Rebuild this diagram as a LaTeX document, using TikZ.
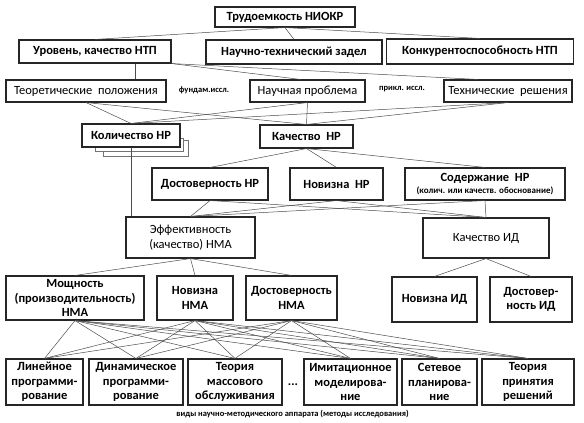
\documentclass[tikz,border=0pt]{standalone}
\usepackage{fontspec}
\setmainfont{Carlito}
\usetikzlibrary{positioning, calc, backgrounds}

\begin{document}
\begin{tikzpicture}[
  x=1pt, y=-1pt,
  every node/.style={font=\fontsize{12.5}{14.5}\selectfont},
  box/.style  = {align=center, draw=black!85, line width=1.1pt, fill=white, inner sep=1pt, font=\fontsize{12.5}{14.5}\selectfont\bfseries},
  plain/.style = {box, font=\fontsize{12.5}{14.5}\selectfont},
  note/.style = {font=\fontsize{8.5}{10}\selectfont\bfseries, inner sep=1pt},
  link/.style = {draw=black!70, line width=0.5pt},
  pile/.style = {draw=black!55, line width=0.6pt, fill=white},
]
  \useasboundingbox (0,0) rectangle (584,423);
  % top of the tree
  \node[box, minimum width=140pt, minimum height=20pt] (trud) at (285,17) {Трудоемкость НИОКР};
  \node[box, minimum width=152pt, minimum height=23pt] (urov) at (95,51.5) {Уровень, качество НТП};
  \node[box, minimum width=176pt, minimum height=24pt] (zadel) at (294,52) {Научно-технический задел};
  \node[box, minimum width=187pt, minimum height=25pt] (konk) at (480,51.5) {Конкурентоспособность НТП};
  % kinds of research
  \node[plain, minimum width=160pt, minimum height=22pt] (teor) at (86,91) {Теоретические\ \ положения};
  \node[plain, minimum width=115pt, minimum height=22pt] (nauch) at (307.5,91) {Научная проблема};
  \node[plain, minimum width=128pt, minimum height=22pt] (tech) at (508,91) {Технические\ \ решения};
  \node[note] (fund) at (204,90) {фундам.иссл.};
  \node[note] (prikl) at (402,89) {прикл. иссл.};
  % results
  \node[box, minimum width=98pt, minimum height=23pt] (kol) at (131,135.5) {Количество НР};
  \begin{scope}[on background layer]
    \draw[pile] (103,140) rectangle (188,156);
    \draw[pile] (95,138) rectangle (183,151);
  \end{scope}
  \node[box, minimum width=93pt, minimum height=23pt] (kach) at (306.5,136.5) {Качество\ \ НР};
  \node[box, minimum width=116pt, minimum height=32pt] (dostnr) at (210,184) {Достоверность НР};
  \node[box, minimum width=93pt, minimum height=32pt] (novnr) at (336.5,184) {Новизна\ \ НР};
  \node[box, minimum width=160pt, minimum height=32pt] (sod) at (485,184)
    {Содержание\ \ НР\\[-2pt]{\fontsize{9}{10}\selectfont (колич. или качеств. обоснование)}};
  \node[plain, minimum width=129pt, minimum height=41pt] (eff) at (190.5,237.5) {Эффективность\\(качество) НМА};
  \node[plain, minimum width=126pt, minimum height=40pt] (kachid) at (486,238) {Качество ИД};
  % properties
  \node[box, minimum width=138pt, minimum height=44pt] (mosh) at (75,298) {Мощность\\(производительность)\\НМА};
  \node[box, minimum width=76pt, minimum height=44pt] (novnma) at (195,298) {Новизна\\НМА};
  \node[box, minimum width=91pt, minimum height=44pt] (dostnma) at (291.5,298) {Достоверность\\НМА};
  \node[box, minimum width=85pt, minimum height=45pt] (novid) at (434.5,299.5) {Новизна ИД};
  \node[box, minimum width=82pt, minimum height=45pt] (dostid) at (531,299.5) {Достовер-\\ность ИД};
  % methods
  \node[box, minimum width=77pt, minimum height=46pt] (lin) at (44.5,382) {Линейное\\программи-\\рование};
  \node[box, minimum width=94pt, minimum height=46pt] (dyn) at (136,382) {Динамическое\\программи-\\рование};
  \node[box, minimum width=94pt, minimum height=46pt] (tmo) at (235,382) {Теория\\массового\\обслуживания};
  \node[font=\fontsize{12.5}{14.5}\selectfont\bfseries, inner sep=0pt] (dots) at (293,385) {...};
  \node[box, minimum width=93pt, minimum height=46pt] (imit) at (350.5,382) {Имитационное\\моделирова-\\ние};
  \node[box, minimum width=75pt, minimum height=46pt] (setp) at (439.5,382) {Сетевое\\планирова-\\ние};
  \node[box, minimum width=92pt, minimum height=46pt] (tpr) at (528,382) {Теория\\принятия\\решений};
  \node[note] (caption) at (292.5,414) {виды научно-методического аппарата (методы исследования)};

  \draw[link] (trud.south) -- (urov.north);
  \draw[link] (trud.south) -- (zadel.north);
  \draw[link] (trud.south) -- (konk.north);
  \draw[link] ([xshift=40pt]urov.south) -- ([xshift=40pt]urov.south |- teor.north);
  \draw[link] (urov.south east) -- ([xshift=-7pt]nauch.north);
  \draw[link] (urov.south east) -- ([xshift=-30pt]tech.north);
  \foreach \a in {teor, nauch, tech}
    \foreach \b in {kol, kach}
      \draw[link] (\a.south) -- (\b.north);
  \draw[link] (kol.south) -- (eff.north -| kol.south);
  \foreach \b in {dostnr, novnr, sod}
    \draw[link] (kach.south) -- (\b.north);
  \foreach \a in {dostnr, novnr, sod}
    \foreach \b in {eff, kachid}
      \draw[link] (\a.south) -- (\b.north);
  \foreach \b in {mosh, novnma, dostnma}
    \draw[link] (eff.south) -- (\b.north);
  \foreach \b in {novid, dostid}
    \draw[link] (kachid.south) -- (\b.north);
  \foreach \a in {mosh, novnma, dostnma}
    \foreach \b in {lin, dyn, tmo, imit, setp, tpr}
      \draw[link] (\a.south) -- (\b.north);
\end{tikzpicture}
\end{document}
